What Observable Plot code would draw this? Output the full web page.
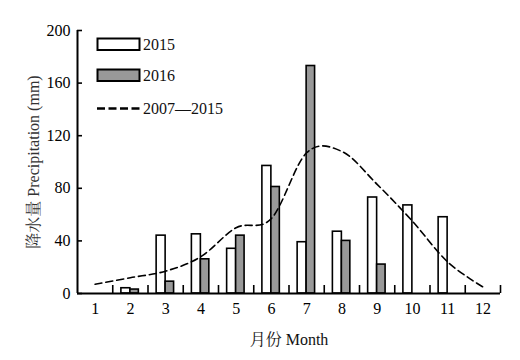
<!DOCTYPE html>
<html><head><meta charset="utf-8">
<script src="https://cdn.jsdelivr.net/npm/d3@7"></script>
<script src="https://cdn.jsdelivr.net/npm/@observablehq/plot@0.6"></script>
<style>body{margin:0;background:#fff}</style>
</head><body><div id="chart"></div>
<script>
// ---- data ----
const months = [1, 2, 3, 4, 5, 6, 7, 8, 9, 10, 11, 12];
const p2015 = [null, 4, 44, 45, 34, 97, 39, 47, 73, 67, 58, null];
const p2016 = [null, 3, 9, 26, 44, 81, 173, 40, 22, null, null, null];
const mean2007_2015 = [7, 12, 17, 28, 50, 57, 107, 108, 83, 55, 24, 5];
const yTicks = [0, 40, 80, 120, 160, 200];
const seriesNames = ["2015", "2016", "2007\u20142015"];
const xTitle = "月份 Month";
const yTitle = "降水量 Precipitation (mm)";

const font = '"Liberation Serif", "Times New Roman", "Noto Serif CJK SC", "Noto Sans CJK SC", serif';
const rows = months.map((m, i) => ({month: m, y2015: p2015[i], y2016: p2016[i], mean: mean2007_2015[i]}));
const bounds = months.map(m => m + 0.5);
const x0 = 0.5;

const chart = Plot.plot({
  width: 520, height: 360,
  marginLeft: 77, marginRight: 20, marginTop: 30, marginBottom: 67,
  style: {fontFamily: font, fontSize: "16px", color: "#000", background: "#fff", overflow: "visible"},
  x: {domain: [0.5, 12.5]},
  y: {domain: [0, 200]},
  marks: [
    Plot.rectY(rows, {x1: d => d.month - 0.255, x2: d => d.month, y1: 0, y2: "y2015", fill: "white", stroke: "black", strokeWidth: 1.6}),
    Plot.rectY(rows, {x1: d => d.month, x2: d => d.month + 0.24, y1: 0, y2: "y2016", fill: "#999", stroke: "black", strokeWidth: 1.6}),
    Plot.line(rows, {x: "month", y: "mean", curve: "cardinal", stroke: "black", strokeWidth: 1.6, strokeDasharray: "7,4"}),
    Plot.ruleX(bounds, {x: d => d, y1: 0, y2: 0, insetTop: -8, stroke: "black", strokeWidth: 1.6}),
    Plot.ruleY(yTicks, {y: d => d, x1: x0, x2: x0, insetRight: -5, stroke: "black", strokeWidth: 1.6}),
    Plot.ruleX([x0], {stroke: "black", strokeWidth: 2}),
    Plot.ruleY([0], {stroke: "black", strokeWidth: 2}),
    Plot.axisX({ticks: months, tickSize: 0, tickPadding: 9, label: null}),
    Plot.axisY({ticks: yTicks, tickSize: 0, tickPadding: 7, label: null}),
    Plot.text([xTitle], {text: d => d, frameAnchor: "bottom", lineAnchor: "middle", dy: 46, fill: "#111"}),
    Plot.text([yTitle], {text: d => d, frameAnchor: "left", textAnchor: "middle", lineAnchor: "middle", rotate: -90, dx: -44, fill: "#333"})
  ]
});

// legend (inside the frame, top-left)
const svg = d3.select(chart);
const lg = svg.append("g").attr("font-family", font).attr("font-size", 16).attr("text-anchor", "start");
lg.append("rect").attr("x", 97.5).attr("y", 38.5).attr("width", 42).attr("height", 11.5)
  .attr("fill", "white").attr("stroke", "black").attr("stroke-width", 2);
lg.append("rect").attr("x", 97.5).attr("y", 69.5).attr("width", 42).attr("height", 11.5)
  .attr("fill", "#999").attr("stroke", "black").attr("stroke-width", 2);
lg.append("line").attr("x1", 97).attr("x2", 140).attr("y1", 108.5).attr("y2", 108.5)
  .attr("stroke", "black").attr("stroke-width", 2.5).attr("stroke-dasharray", "8,3.5");
[44.5, 75.5, 108.5].forEach((y, i) => {
  lg.append("text").attr("x", 143).attr("y", y).attr("dy", "0.32em").attr("fill", "#111")
    .attr("text-anchor", "start").text(seriesNames[i]);
});

document.getElementById("chart").append(chart);
</script>
</body></html>
